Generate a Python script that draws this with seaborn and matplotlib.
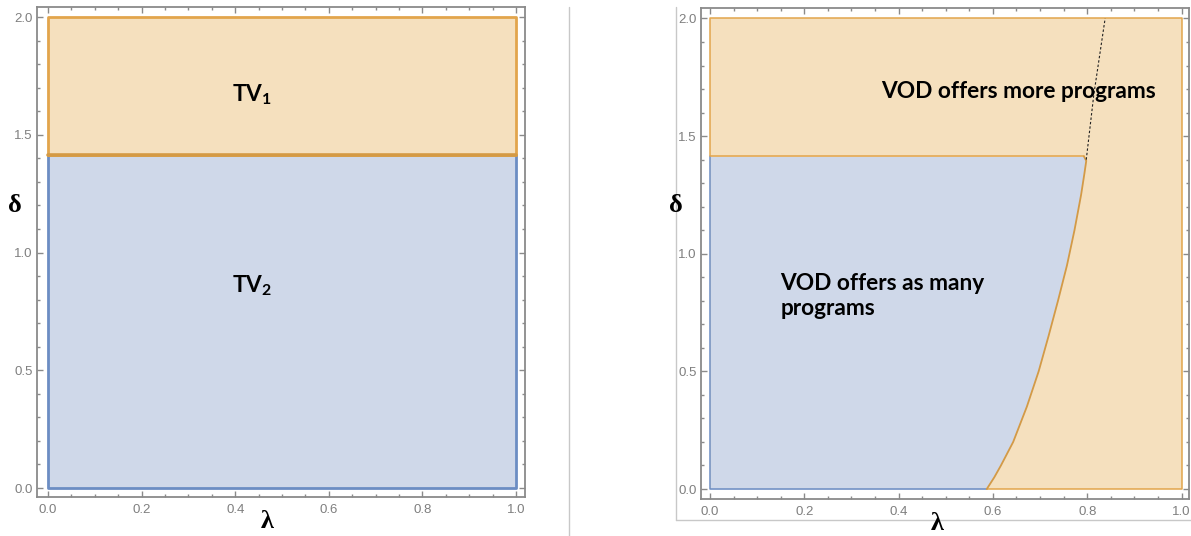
import matplotlib
matplotlib.use("Agg")
import matplotlib.pyplot as plt
import seaborn as sns
import pandas as pd
from matplotlib.ticker import MultipleLocator, FormatStrFormatter
from matplotlib.lines import Line2D

# ---------------- data ----------------
lambda_range = [0.0, 1.0]
delta_range = [0.0, 2.0]
delta_threshold = 1.414

# right panel: boundary between "as many" and "more" regions
boundary_delta = [0.0, 0.05, 0.10, 0.20, 0.35, 0.50, 0.65, 0.80,
                  0.95, 1.10, 1.25, 1.34, 1.395, 1.414]
boundary_lambda = [0.587, 0.603, 0.617, 0.643, 0.672, 0.697, 0.718, 0.738,
                   0.757, 0.773, 0.787, 0.794, 0.798, 0.793]
# dotted continuation above the threshold
dotted_delta = [1.40, 1.676, 2.0]
dotted_lambda = [0.798, 0.814, 0.838]

x_ticks = [0.0, 0.2, 0.4, 0.6, 0.8, 1.0]
y_ticks = [0.0, 0.5, 1.0, 1.5, 2.0]

left_labels = [r"TV$_{\mathbf{1}}$", r"TV$_{\mathbf{2}}$"]
right_labels = ["VOD offers more programs", "VOD offers as many\nprograms"]

# ---------------- style ----------------
sns.set_theme(style="white")
plt.rcParams['font.family'] = ['Liberation Sans', 'DejaVu Sans']
plt.rcParams['mathtext.fontset'] = 'custom'
plt.rcParams['mathtext.bf'] = 'Lato:bold'
plt.rcParams['mathtext.rm'] = 'Lato:bold'

ORANGE_FILL = "#F5E0BE"
BLUE_FILL = "#CFD8E9"
ORANGE_EDGE = "#E2A54C"
ORANGE_EDGE_DARK = "#D49A45"
BLUE_EDGE = "#6C8DC3"
FRAME = "#8a8a8a"
TICKLBL = "#7f7f7f"

W, H = 1191, 536
fig = plt.figure(figsize=(W / 100, H / 100), dpi=100)


def px_axes(l, r, t, b):
    return fig.add_axes([l / W, 1 - b / H, (r - l) / W, (b - t) / H])


axL = px_axes(37, 525, 7, 497)
axR = px_axes(701, 1189, 8, 499)


def style_axes(ax, xlim, ylim):
    ax.set_xlim(*xlim)
    ax.set_ylim(*ylim)
    ax.set_xticks(x_ticks)
    ax.set_yticks(y_ticks)
    ax.xaxis.set_minor_locator(MultipleLocator(0.05))
    ax.yaxis.set_minor_locator(MultipleLocator(0.1))
    ax.xaxis.set_major_formatter(FormatStrFormatter("%.1f"))
    ax.yaxis.set_major_formatter(FormatStrFormatter("%.1f"))
    ax.tick_params(which="both", direction="in", top=True, right=True,
                   bottom=True, left=True, color=FRAME, width=1.0,
                   labelcolor=TICKLBL, labelsize=9.5)
    ax.tick_params(which="major", length=4.5)
    ax.tick_params(which="minor", length=2.5)
    ax.tick_params(axis="x", pad=5)
    ax.tick_params(axis="y", pad=3)
    for s in ax.spines.values():
        s.set_color(FRAME)
        s.set_linewidth(1.3)
    ax.set_facecolor("white")


style_axes(axL, (-0.0235, 1.0192), (-0.0382, 2.0425))
style_axes(axR, (-0.0191, 1.0159), (-0.0425, 2.0446))

x0, x1 = lambda_range
y0, y1 = delta_range

# ---------------- left panel ----------------
axL.fill_between([x0, x1], y0, delta_threshold, color=BLUE_FILL, lw=0)
axL.fill_between([x0, x1], delta_threshold, y1, color=ORANGE_FILL, lw=0)
blue_box = pd.DataFrame({"x": [x0, x0, x1, x1],
                         "y": [delta_threshold, y0, y0, delta_threshold]})
sns.lineplot(data=blue_box, x="x", y="y", sort=False, estimator=None,
             color=BLUE_EDGE, lw=2.0, ax=axL)
orange_box = pd.DataFrame({"x": [x0, x0, x1, x1, x0],
                           "y": [delta_threshold, y1, y1, delta_threshold, delta_threshold]})
sns.lineplot(data=orange_box, x="x", y="y", sort=False, estimator=None,
             color=ORANGE_EDGE, lw=2.0, ax=axL)
axL.plot([x0, x1], [delta_threshold, delta_threshold], color=ORANGE_EDGE_DARK, lw=2.6)

txt_kw = dict(family=["Lato", "DejaVu Sans"], fontweight="bold", fontsize=16.3,
              color="black")
axL.text(0.393, 1.67, left_labels[0], ha="left", va="center", **txt_kw)
axL.text(0.393, 0.86, left_labels[1], ha="left", va="center", **txt_kw)

# ---------------- right panel ----------------
axR.fill_between([x0, x1], y0, y1, color=ORANGE_FILL, lw=0)
axR.fill_betweenx(boundary_delta, x0, boundary_lambda, color=BLUE_FILL, lw=0)

blue_edge = pd.DataFrame({"x": [x0, x0, boundary_lambda[0]],
                          "y": [delta_threshold, y0, y0]})
sns.lineplot(data=blue_edge, x="x", y="y", sort=False, estimator=None,
             color=BLUE_EDGE, lw=1.1, ax=axR)
orange_outer = pd.DataFrame({"x": [boundary_lambda[0], x1, x1, x0, x0, boundary_lambda[-1]],
                             "y": [y0, y0, y1, y1, delta_threshold, delta_threshold]})
sns.lineplot(data=orange_outer, x="x", y="y", sort=False, estimator=None,
             color=ORANGE_EDGE, lw=1.1, ax=axR)
curve = pd.DataFrame({"x": boundary_lambda, "y": boundary_delta})
sns.lineplot(data=curve, x="x", y="y", sort=False, estimator=None,
             color=ORANGE_EDGE_DARK, lw=1.3, ax=axR)
dotted = pd.DataFrame({"x": dotted_lambda, "y": dotted_delta})
sns.lineplot(data=dotted, x="x", y="y", sort=False, estimator=None,
             color="#222222", lw=0.8, linestyle=(0, (2.2, 1.8)), ax=axR)

axR.text(0.363, 1.69, right_labels[0], ha="left", va="center", **txt_kw)
axR.text(0.149, 0.82, right_labels[1], ha="left", va="center",
         linespacing=1.2, **txt_kw)

for ax in (axL, axR):
    ax.set_xlabel("")
    ax.set_ylabel("")

# axis symbols
sym_kw = dict(family=["Liberation Serif", "DejaVu Serif"], fontweight="bold",
              fontsize=19, color="black", ha="center", va="center")
fig.text(15 / W, 1 - 205 / H, "\u03b4", **sym_kw)
fig.text(267 / W, 1 - 522 / H, "\u03bb", **sym_kw)
fig.text(676 / W, 1 - 205 / H, "\u03b4", **sym_kw)
fig.text(937 / W, 1 - 524 / H, "\u03bb", **sym_kw)

# separators / light frame
GRAY = "#c8c8c8"
fig.add_artist(Line2D([569 / W, 569 / W], [0, 1 - 7 / H], color=GRAY, lw=1.0,
                      transform=fig.transFigure))
fig.add_artist(Line2D([676 / W, 676 / W], [1 - 520 / H, 1 - 7 / H], color=GRAY, lw=1.0,
                      transform=fig.transFigure))
fig.add_artist(Line2D([676 / W, 1.0], [1 - 520 / H, 1 - 520 / H], color=GRAY, lw=1.0,
                      transform=fig.transFigure))

fig.savefig("out.png", dpi=100)
